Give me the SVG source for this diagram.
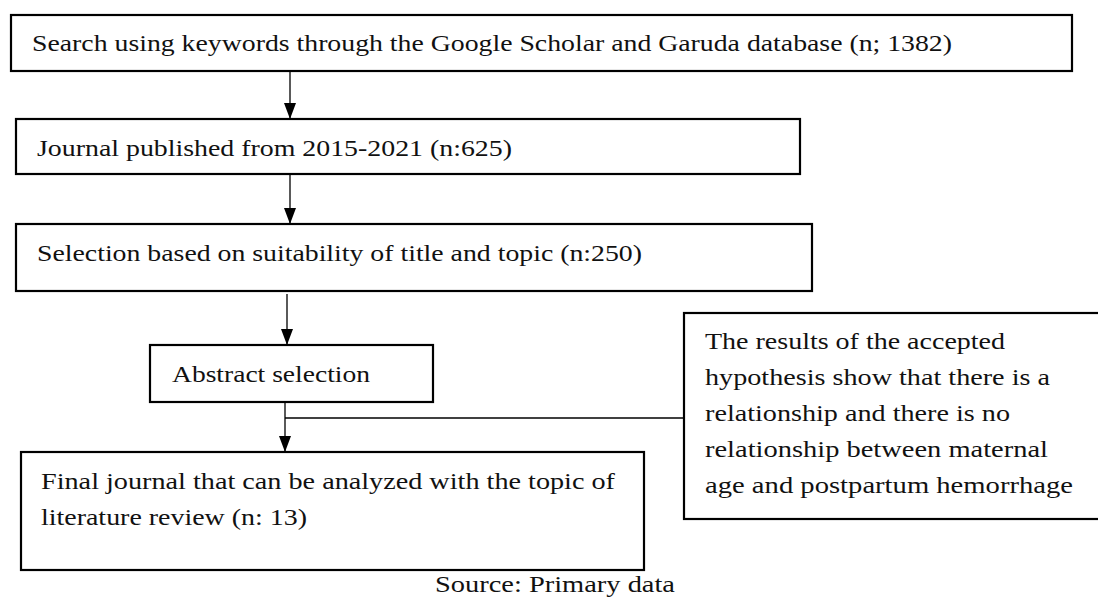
<svg xmlns="http://www.w3.org/2000/svg" width="1098" height="599" viewBox="0 0 1098 599">
<defs>
<style>
.box{fill:#fff;stroke:#000;stroke-width:2.2}
.t{font-family:"Liberation Serif","DejaVu Serif",serif;font-size:23.5px;fill:#111}
.ln{stroke:#000;stroke-width:1.3;fill:none}
</style>
<marker id="ah2" viewBox="0 0 16 12" refX="16" refY="6" markerWidth="16" markerHeight="12" markerUnits="userSpaceOnUse" orient="auto">
<path d="M0,0 L16,6 L0,12 z" fill="#000"/>
</marker>
</defs>
<rect width="1098" height="599" fill="#fff"/>
<g id="connectors">
<line class="ln" x1="290" y1="71" x2="290" y2="119" marker-end="url(#ah2)"/>
<line class="ln" x1="290" y1="174" x2="290" y2="224" marker-end="url(#ah2)"/>
<line class="ln" x1="287" y1="294" x2="287" y2="345" marker-end="url(#ah2)"/>
<line class="ln" x1="285" y1="402" x2="285" y2="452" marker-end="url(#ah2)"/>
<line class="ln" x1="285" y1="418" x2="684" y2="418"/>
</g>
<g id="n1">
<rect class="box" x="11" y="15" width="1061" height="56"/>
<text class="t" x="32" y="51" textLength="920" lengthAdjust="spacingAndGlyphs">Search using keywords through the Google Scholar and Garuda database (n; 1382)</text>
</g>
<g id="n2">
<rect class="box" x="16" y="119" width="784" height="55"/>
<text class="t" x="37" y="156" textLength="475" lengthAdjust="spacingAndGlyphs">Journal published from 2015-2021 (n:625)</text>
</g>
<g id="n3">
<rect class="box" x="16" y="224" width="796" height="67"/>
<text class="t" x="37" y="261" textLength="605" lengthAdjust="spacingAndGlyphs">Selection based on suitability of title and topic (n:250)</text>
</g>
<g id="n4">
<rect class="box" x="150" y="345" width="283" height="57"/>
<text class="t" x="172" y="382" textLength="198" lengthAdjust="spacingAndGlyphs">Abstract selection</text>
</g>
<g id="n5">
<rect class="box" x="684" y="313" width="420" height="206"/>
<text class="t" x="705" y="349" textLength="300" lengthAdjust="spacingAndGlyphs">The results of the accepted</text>
<text class="t" x="705" y="385" textLength="345" lengthAdjust="spacingAndGlyphs">hypothesis show that there is a</text>
<text class="t" x="705" y="421" textLength="305" lengthAdjust="spacingAndGlyphs">relationship and there is no</text>
<text class="t" x="705" y="457" textLength="343" lengthAdjust="spacingAndGlyphs">relationship between maternal</text>
<text class="t" x="705" y="493" textLength="368" lengthAdjust="spacingAndGlyphs">age and postpartum hemorrhage</text>
</g>
<g id="n6">
<rect class="box" x="21" y="452" width="623" height="118"/>
<text class="t" x="41" y="489" textLength="574" lengthAdjust="spacingAndGlyphs">Final journal that can be analyzed with the topic of</text>
<text class="t" x="41" y="525" textLength="266" lengthAdjust="spacingAndGlyphs">literature review (n: 13)</text>
</g>
<g id="caption">
<text class="t" x="555" y="592" text-anchor="middle" textLength="240" lengthAdjust="spacingAndGlyphs">Source: Primary data</text>
</g>
</svg>
